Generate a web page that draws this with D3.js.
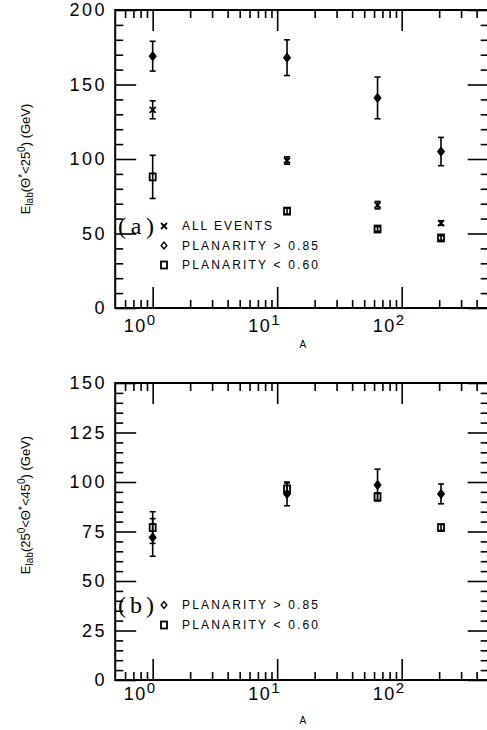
<!DOCTYPE html>
<html>
<head>
<meta charset="utf-8">
<script src="https://cdn.jsdelivr.net/npm/d3@7"></script>
<style>
  body { margin: 0; background: #fff; }
  svg { display: block; }
</style>
</head>
<body>
<svg id="chart" width="487" height="730"></svg>
<script>
// Mass numbers of the targets (H, C, Cu, Pb)
const massNumbers = [1, 12, 64, 207];
const xMajorTicks = [1, 10, 100];
const xTickExponents = ["0", "1", "2"];

// Panel (a): θ* < 25°
const allEventsA    = [133, 99, 69, 57];
const allEventsAErr = [6, 2.5, 2.5, 1.5];
const planHighA     = [169, 168, 141, 105];
const planHighAErr  = [10, 12, 14, 9.5];
const planLowA      = [88, 65, 53, 47];
const planLowAErr   = [14.5, 2, 1.5, 1.5];
const yTicksA       = [0, 50, 100, 150, 200];

// Panel (b): 25° < θ* < 45°
const planHighB     = [72, 94, 98.5, 94];
const planHighBErr  = [9.5, 6, 8, 5];
const planLowB      = [77, 96.5, 92.5, 77];
const planLowBErr   = [8, 3, 2, 1.5];
const yTicksB       = [0, 25, 50, 75, 100, 125, 150];

const legendA = ["ALL EVENTS", "PLANARITY > 0.85", "PLANARITY < 0.60"];
const legendB = ["PLANARITY > 0.85", "PLANARITY < 0.60"];

const svg = d3.select("#chart");
const FONT = "'Liberation Sans', Arial, sans-serif";
const left = 115.2, right = 488.7;
const x = d3.scaleLog().domain([0.5, 500]).range([left, right]);
const xMinor = x.ticks().filter(v => !xMajorTicks.includes(v) && v > 0.5 && v < 500);

const panels = [
  {
    top: 10, bottom: 308, ymax: 200, minorStep: 10, yTicks: yTicksA,
    titleY: 159, label: "(a)",
    series: [
      { kind: "cross",   values: allEventsA, errors: allEventsAErr },
      { kind: "diamond", values: planHighA,  errors: planHighAErr },
      { kind: "square",  values: planLowA,   errors: planLowAErr }
    ],
    legend: [
      { kind: "cross", text: legendA[0], width: 90 },
      { kind: "diamondOpen", text: legendA[1], width: 136 },
      { kind: "square", text: legendA[2], width: 136 }
    ],
    legendY: 226, legendStep: 19.5,
    title: [
      { t: "E" }, { t: "lab", size: 10, dy: 3 }, { t: "(Θ", dy: -3 },
      { t: "*", size: 10, dy: -4 }, { t: "<25", dy: 4 }, { t: "0", size: 10, dy: -5 },
      { t: ") (GeV)", dy: 5 }
    ],
    xLabelDy: 24, xTitleY: 348
  },
  {
    top: 383, bottom: 680, ymax: 150, minorStep: 5, yTicks: yTicksB,
    titleY: 505, label: "(b)",
    series: [
      { kind: "square",  values: planLowB,  errors: planLowBErr },
      { kind: "diamond", values: planHighB, errors: planHighBErr }
    ],
    legend: [
      { kind: "diamondOpen", text: legendB[0], width: 136 },
      { kind: "square", text: legendB[1], width: 136 }
    ],
    legendY: 605, legendStep: 20,
    title: [
      { t: "E" }, { t: "lab", size: 10, dy: 3 }, { t: "(25", dy: -3 },
      { t: "0", size: 10, dy: -5 }, { t: "<Θ", dy: 5 }, { t: "*", size: 10, dy: -4 },
      { t: "<45", dy: 4 }, { t: "0", size: 10, dy: -5 }, { t: ") (GeV)", dy: 5 }
    ],
    xLabelDy: 20, xTitleY: 724
  }
];

function marker(g, kind, cx, cy) {
  if (kind === "diamond" || kind === "diamondOpen") {
    const s = kind === "diamond" ? [3.6, 4.6] : [2.8, 3.4];
    g.append("path")
      .attr("d", `M${cx},${cy - s[1]}L${cx + s[0]},${cy}L${cx},${cy + s[1]}L${cx - s[0]},${cy}Z`)
      .attr("fill", kind === "diamond" ? "#000" : "none")
      .attr("stroke", "#000").attr("stroke-width", kind === "diamond" ? 1 : 1.4);
  } else if (kind === "cross") {
    g.append("path")
      .attr("d", `M${cx - 3},${cy - 3}L${cx + 3},${cy + 3}M${cx - 3},${cy + 3}L${cx + 3},${cy - 3}`)
      .attr("stroke", "#000").attr("stroke-width", 1.8).attr("fill", "none");
  } else if (kind === "square") {
    g.append("rect")
      .attr("x", cx - 3).attr("y", cy - 3.5).attr("width", 6).attr("height", 7)
      .attr("fill", "none").attr("stroke", "#000").attr("stroke-width", 1.8);
  }
}

function richText(textSel, parts, baseSize) {
  parts.forEach(p => {
    const ts = textSel.append("tspan").text(p.t).attr("font-size", p.size || baseSize);
    if (p.dy) ts.attr("dy", p.dy);
  });
}

panels.forEach(p => {
  const y = d3.scaleLinear().domain([0, p.ymax]).range([p.bottom, p.top]);
  const yMinor = d3.range(0, p.ymax + p.minorStep / 2, p.minorStep).filter(v => !p.yTicks.includes(v));
  const g = svg.append("g");

  const axisStyle = sel => {
    sel.select(".domain").remove();
    sel.selectAll(".tick line").attr("stroke", "#000").attr("stroke-width", 1.6);
  };
  const addAxis = (axis, tf) => g.append("g").attr("transform", tf).call(axis).call(axisStyle);

  // ticks on all four sides, pointing inward
  addAxis(d3.axisBottom(x).tickValues(xMajorTicks).tickSize(-21).tickFormat(""), `translate(0,${p.bottom})`);
  addAxis(d3.axisBottom(x).tickValues(xMinor).tickSize(-8).tickFormat(""), `translate(0,${p.bottom})`);
  addAxis(d3.axisTop(x).tickValues(xMajorTicks).tickSize(-21).tickFormat(""), `translate(0,${p.top})`);
  addAxis(d3.axisTop(x).tickValues(xMinor).tickSize(-8).tickFormat(""), `translate(0,${p.top})`);
  addAxis(d3.axisLeft(y).tickValues(p.yTicks).tickSize(-21).tickFormat(""), `translate(${left},0)`);
  addAxis(d3.axisLeft(y).tickValues(yMinor).tickSize(-8).tickFormat(""), `translate(${left},0)`);
  addAxis(d3.axisRight(y).tickValues(p.yTicks).tickSize(-21).tickFormat(""), `translate(${right},0)`);
  addAxis(d3.axisRight(y).tickValues(yMinor).tickSize(-8).tickFormat(""), `translate(${right},0)`);

  // frame
  g.append("rect")
    .attr("x", left).attr("y", p.top)
    .attr("width", right - left).attr("height", p.bottom - p.top)
    .attr("fill", "none").attr("stroke", "#000").attr("stroke-width", 2);

  // y tick labels
  g.selectAll(".ylab").data(p.yTicks).join("text")
    .attr("x", 107).attr("y", d => y(d))
    .attr("dy", "0.36em")
    .attr("text-anchor", "end")
    .attr("font-family", FONT).attr("font-size", 18)
    .attr("letter-spacing", 2.5)
    .text(d => d);

  // x tick labels: 10^n
  xMajorTicks.forEach((v, i) => {
    const t = g.append("text")
      .attr("x", x(v) - 29).attr("y", p.bottom + p.xLabelDy)
      .attr("font-family", FONT).attr("font-size", 18).attr("letter-spacing", 1.5);
    t.append("tspan").text("10");
    t.append("tspan").attr("dy", -7).attr("font-size", 15).text(xTickExponents[i]);
  });

  // x axis title
  g.append("text")
    .attr("x", (left + right) / 2 + 1).attr("y", p.xTitleY)
    .attr("text-anchor", "middle")
    .attr("font-family", FONT).attr("font-size", 10)
    .text("A");

  // y axis title
  const yt = g.append("text")
    .attr("transform", `translate(30,${p.titleY}) rotate(-90)`)
    .attr("text-anchor", "middle")
    .attr("font-family", FONT);
  richText(yt, p.title, 13);

  // data: error bars then markers
  p.series.forEach(s => {
    const sg = g.append("g");
    massNumbers.forEach((a, i) => {
      const cx = x(a), v = s.values[i], e = s.errors[i];
      const y1 = y(v - e), y2 = y(v + e);
      sg.append("line").attr("x1", cx).attr("x2", cx).attr("y1", y1).attr("y2", y2)
        .attr("stroke", "#000").attr("stroke-width", 1.6);
      [y1, y2].forEach(yy => sg.append("line")
        .attr("x1", cx - 3).attr("x2", cx + 3).attr("y1", yy).attr("y2", yy)
        .attr("stroke", "#000").attr("stroke-width", 1.6));
      marker(sg, s.kind, cx, y(v));
    });
  });

  // panel label and legend
  g.append("text")
    .attr("x", 118).attr("y", p.legendY).attr("dy", "0.33em")
    .attr("font-family", "'Liberation Serif', 'Times New Roman', serif")
    .attr("font-size", 24)
    .attr("textLength", 36).attr("lengthAdjust", "spacing")
    .text(p.label);
  p.legend.forEach((l, i) => {
    const ly = p.legendY + i * p.legendStep;
    marker(g, l.kind, 164, ly);
    g.append("text")
      .attr("x", 182).attr("y", ly).attr("dy", "0.36em")
      .attr("font-family", FONT).attr("font-size", 12)
      .attr("textLength", l.width).attr("lengthAdjust", "spacing")
      .text(l.text);
  });
});
</script>
</body>
</html>
